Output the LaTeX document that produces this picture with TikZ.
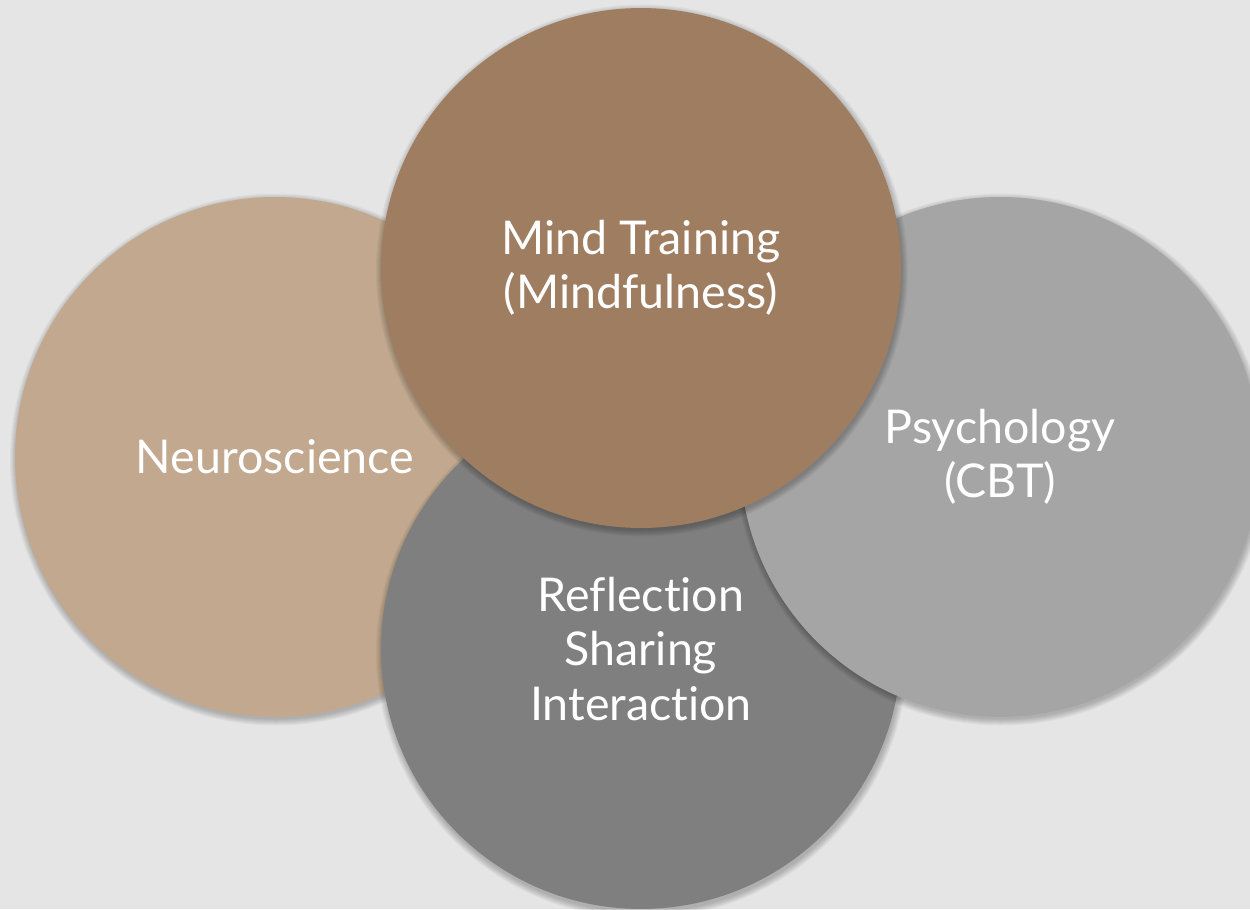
\documentclass[tikz,border=0pt]{standalone}
\usepackage{fontspec}
\setmainfont{Lato}[Ligatures={NoCommon}]
\definecolor{bgc}{HTML}{E5E5E5}
\definecolor{tan}{HTML}{C1A88E}
\definecolor{brown}{HTML}{9F7D61}
\definecolor{lightgrey}{HTML}{A5A5A5}
\definecolor{darkgrey}{HTML}{7F7F7F}
\newcommand\softshadow[2]{%
  \foreach \k in {1,...,7}
    \fill[black,opacity=0.035] ({#1+1},{#2+2.5}) circle[radius={259+\k}];%
}
\begin{document}
\begin{tikzpicture}[x=0.02cm,y=-0.02cm,
  disc/.style={circle, inner sep=0pt, minimum size=10.4cm, text=white,
    align=center, font=\fontsize{26.5}{31}\selectfont}]
\useasboundingbox (0,0) rectangle (1250,909);
\clip (0,0) rectangle (1250,909);
\fill[bgc] (0,0) rectangle (1250,909);

% left disc
\softshadow{275}{457}
\node[disc, fill=tan] (neuro) at (275,457) {Neuroscience};

% bottom disc
\softshadow{641}{650}
\node[disc, fill=darkgrey] (reflect) at (641,649) {Reflection\\Sharing\\Interaction};

% right disc
\softshadow{1000}{457}
\node[disc, fill=lightgrey] (psych) at (1000,457) {Psychology\\(CBT)};

% top disc
\softshadow{641}{268}
\node[disc, fill=brown] (mind) at (641,268) {Mind Training\\(Mindfulness)};
\end{tikzpicture}
\end{document}
